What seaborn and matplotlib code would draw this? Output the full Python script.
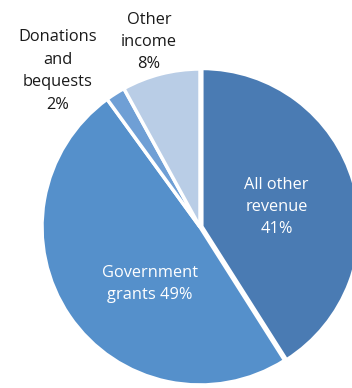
import numpy as np
import matplotlib
matplotlib.use("Agg")
import matplotlib.pyplot as plt
import seaborn as sns

# Revenue sources (share of total, %)
categories = ["All other\nrevenue", "Government\ngrants", "Donations\nand\nbequests", "Other\nincome"]
shares = [41, 49, 2, 8]
label_fmt = ["{c}\n{v}%", "Government\ngrants {v}%", "{c}\n{v}%", "{c}\n{v}%"]

colors = ["#4a7bb3", "#5590cb", "#6f9fd5", "#b9cde6"]
text_colors = ["white", "white", "#1a1a1a", "#1a1a1a"]
# label placement: (angle nudge in degrees, distance in radii)
label_place = [(-1.5, 0.50), (14.5, 0.48), (9.9, 1.335), (1.0, 1.215)]

sns.set_theme(style="white")
plt.rcParams["font.family"] = ["Open Sans", "DejaVu Sans"]

fig = plt.figure(figsize=(3.52, 3.88), dpi=100)
ax = fig.add_axes([42 / 352, 3 / 388, 316 / 352, 316 / 388])

wedges, _ = ax.pie(
    shares,
    colors=colors,
    startangle=90,
    counterclock=False,
    explode=[0.012, 0, 0, 0],
    wedgeprops=dict(edgecolor="white", linewidth=2.5),
)

for w, cat, v, fmt, tc, (nudge, dist) in zip(wedges, categories, shares, label_fmt, text_colors, label_place):
    mid = np.deg2rad((w.theta1 + w.theta2) / 2 + nudge)
    x, y = dist * np.cos(mid), dist * np.sin(mid)
    ax.text(x, y, fmt.format(c=cat, v=v), ha="center", va="center",
            color=tc, fontsize=11.8, linespacing=1.53)

ax.set_xlim(-1, 1)
ax.set_ylim(-1, 1)
ax.set_aspect("equal")
ax.axis("off")

fig.savefig("out.png", dpi=100)
